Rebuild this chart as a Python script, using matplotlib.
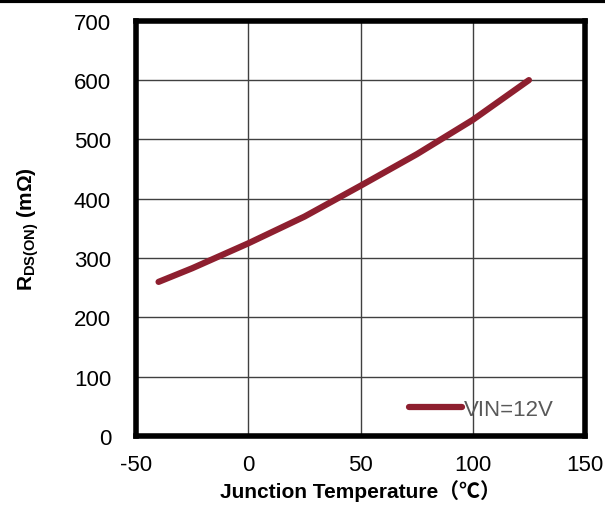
import numpy as np
import matplotlib.pyplot as plt
from matplotlib.lines import Line2D

plt.rcParams['font.family'] = ['Liberation Sans', 'Noto Sans CJK SC', 'DejaVu Sans']
plt.rcParams['mathtext.fontset'] = 'custom'
plt.rcParams['mathtext.rm'] = 'Liberation Sans'
plt.rcParams['mathtext.bf'] = 'Liberation Sans:bold'
plt.rcParams['axes.unicode_minus'] = False

# data
temp = [-40, -25, 0, 25, 50, 75, 100, 125]
rds_on = [260, 283, 325, 370, 422, 475, 533, 600]

xticks = [-50, 0, 50, 100, 150]
yticks = [0, 100, 200, 300, 400, 500, 600, 700]

fig = plt.figure(figsize=(6.05, 5.06), dpi=100)
ax = fig.add_axes([0.225, 0.136, 0.742, 0.821])

ax.plot(temp, rds_on, color='#8E1F2F', lw=4.5, solid_capstyle='round', label='VIN=12V')

ax.set_xlim(-50, 150)
ax.set_ylim(0, 700)
ax.set_xticks(xticks)
ax.set_yticks(yticks)
ax.grid(True, color='#404040', lw=1)
ax.tick_params(length=0, labelsize=16)
ax.tick_params(axis='x', pad=13)
ax.tick_params(axis='y', pad=18)
for s in ax.spines.values():
    s.set_linewidth(4)

ax.set_xlabel('Junction Temperature（℃）', fontsize=15, fontweight='bold', labelpad=3)
ax.set_ylabel(r'$\mathbf{R_{DS(ON)}}$ (m$\mathbf{\Omega}$)', fontsize=15, fontweight='bold', labelpad=24)

leg = ax.legend(loc='center right', bbox_to_anchor=(0.951, 0.065), frameon=False, fontsize=16,
                handlelength=2.4, handletextpad=0.1, borderaxespad=0)
for t in leg.get_texts():
    t.set_color('#595959')

# black bar on top edge
fig.add_artist(Line2D([0, 1], [0.997, 0.997], color='black', lw=3, transform=fig.transFigure))

fig.savefig('out.png', dpi=100)
